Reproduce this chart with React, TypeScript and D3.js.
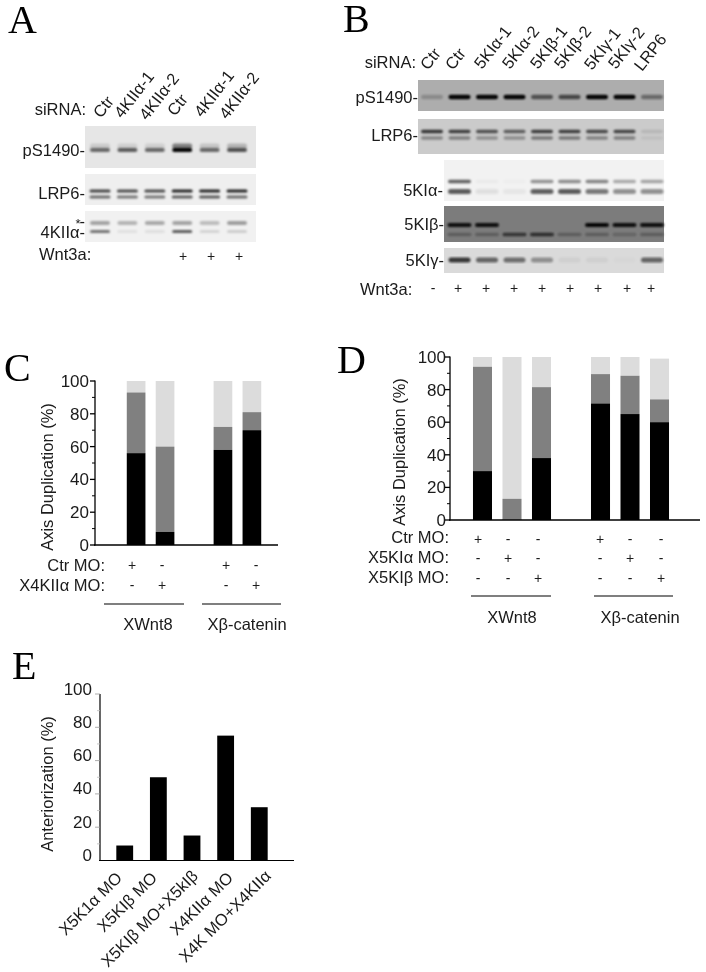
import React from "react";
import * as d3 from "d3";

// ---------- data ----------
const laneA = ["Ctr", "4KIIα-1", "4KIIα-2", "Ctr ", "4KIIα-1 ", "4KIIα-2 "];
const laneB = ["Ctr", "Ctr ", "5KIα-1", "5KIα-2", "5KIβ-1", "5KIβ-2", "5KIγ-1", "5KIγ-2", "LRP6"];
const wntA = ["", "", "", "+", "+", "+"];
const wntB = ["-", "+", "+", "+", "+", "+", "+", "+", "+"];

const aPS1 = [0.55, 0.6, 0.55, 1, 0.55, 0.65];
const aPS2 = [0.12, 0.1, 0.1, 0.45, 0.15, 0.22];
const aLrpTop = [0.72, 0.68, 0.68, 0.85, 0.85, 0.85];
const aLrpBottom = [0.55, 0.5, 0.5, 0.6, 0.62, 0.55];
const aKinTop = [0.32, 0.25, 0.3, 0.32, 0.22, 0.35];
const aKinBottom = [0.52, 0.07, 0.08, 0.62, 0.12, 0.15];

const bPS = [0.2, 1, 1, 1, 0.55, 0.6, 1, 1, 0.4];
const bLrpTop = [0.75, 0.7, 0.62, 0.55, 0.7, 0.7, 0.65, 0.68, 0.1];
const bLrpBottom = [0.35, 0.38, 0.3, 0.3, 0.42, 0.42, 0.36, 0.38, 0.06];
const bAlphaTop = [0, 0.6, 0.03, 0.02, 0.4, 0.42, 0.45, 0.3, 0.32];
const bAlphaBottom = [0, 0.62, 0.08, 0.05, 0.6, 0.62, 0.5, 0.4, 0.4];
const bBetaTop = [0.9, 0.9, 0.9, 0, 0, 0.85 * 0, 0.95, 0.9, 0.9];
const bBetaBottom = [0.25, 0.25, 0.25, 0.6, 0.65, 0.25, 0.25, 0.2, 0.25];
const bGamma = [0.4, 0.75, 0.55, 0.5, 0.35, 0.05, 0.05, 0.02, 0.55];

const cGroups = ["a", "b", "gap", "c", "d"];
const cBlack = [56, 8, 58, 70];
const cGray = [93, 60, 72, 81];
const cLight = [100, 100, 100, 100];
const cCtr = ["+", "-", "+", "-"];
const cMo = ["-", "+", "-", "+"];

const dGroups = ["a", "b", "c", "gap", "d", "e", "f"];
const dBlack = [30, 0, 38, 71.5, 65, 60];
const dGray = [94, 13, 81.5, 89.5, 88.5, 74];
const dLight = [100, 100, 100, 100, 100, 99];
const dCtr = ["+", "-", "-", "+", "-", "-"];
const dAlpha = ["-", "+", "-", "-", "+", "-"];
const dBeta = ["-", "-", "+", "-", "-", "+"];

const eCategories = ["X5K1α MO", "X5KIβ MO", "X5KIβ MO+X5kIβ", "X4KIIα MO", "X4K MO+X4KIIα"];
const eValues = [9, 50, 15, 75, 32];

const yTicks = [0, 20, 40, 60, 80, 100];
const yMinor = [10, 30, 50, 70, 90];

// ---------- style ----------
const SANS = "'Liberation Sans', Arial, sans-serif";
const SERIF = "'Liberation Serif', 'Times New Roman', serif";
const INK = "#1a1a1a";
const FS = 16.5;

const T = (p: any) => (
  <text fontFamily={SANS} fontSize={FS} fill={INK} {...p} />
);

type Band = { y: number; values: number[]; h?: number; tilt?: number };

function Blot({ x0, x1, y0, y1, bg, lanes, bands, bw, ink = "#000" }: any) {
  return (
    <g>
      <rect x={x0} y={y0} width={x1 - x0} height={y1 - y0} fill={bg} />
      <g clipPath={undefined} filter="url(#bandBlur)">
        {bands.map((b: Band, i: number) =>
          b.values.map((v, j) => {
            const key = lanes.domain()[j];
            const cx = lanes(key);
            if (v <= 0 || cx < x0) return null;
            const h = b.h ?? 4;
            return (
              <rect
                key={i + "-" + j}
                x={cx - bw / 2}
                y={b.y - h / 2}
                width={bw}
                height={h}
                rx={h / 2}
                fill={ink}
                fillOpacity={v}
              />
            );
          })
        )}
      </g>
    </g>
  );
}

function Stacked({ groups, range, padding, y, black, gray, light, axisX, axisEnd }: any) {
  const slots = groups.filter((g: string) => g !== "gap");
  const x = d3.scaleBand<string>().domain(groups).range(range).padding(padding);
  const y0 = y(0);
  return (
    <g>
      {slots.map((g: string, i: number) => (
        <g key={g}>
          <rect x={x(g)} width={x.bandwidth()} y={y(light[i])} height={y(gray[i]) - y(light[i])} fill="#dcdcdc" />
          <rect x={x(g)} width={x.bandwidth()} y={y(gray[i])} height={y(black[i]) - y(gray[i])} fill="#808080" />
          <rect x={x(g)} width={x.bandwidth()} y={y(black[i])} height={y0 - y(black[i])} fill="#000" />
        </g>
      ))}
      <Axis axisX={axisX} axisEnd={axisEnd} y={y} />
    </g>
  );
}

function Axis({ axisX, axisEnd, y }: any) {
  return (
    <g stroke="#000" strokeWidth={1.3}>
      <line x1={axisX} x2={axisX} y1={y(100) - 0.5} y2={y(0) + 0.5} />
      <line x1={axisX - 1} x2={axisEnd} y1={y(0)} y2={y(0)} />
      {yTicks.map((t) => (
        <line key={t} x1={axisX - 5} x2={axisX} y1={y(t)} y2={y(t)} />
      ))}
      {yMinor.map((t) => (
        <line key={t} x1={axisX - 3} x2={axisX} y1={y(t)} y2={y(t)} strokeWidth={1} />
      ))}
    </g>
  );
}

function TickLabels({ right, y, dy = 6 }: any) {
  return (
    <g>
      {yTicks.map((t) => (
        <T key={t} x={right} y={y(t) + dy} textAnchor="end" fontSize={17}>
          {t}
        </T>
      ))}
    </g>
  );
}

function Rotated({ x, y, angle, children, anchor = "start", size = FS }: any) {
  return (
    <T transform={`translate(${x},${y}) rotate(${angle})`} textAnchor={anchor} fontSize={size}>
      {children}
    </T>
  );
}

function SignRow({ xs, signs, y }: any) {
  return (
    <g>
      {signs.map((s: string, i: number) =>
        s ? (
          <T key={i} x={xs[i]} y={y} textAnchor="middle" fontSize={14}>
            {s}
          </T>
        ) : null
      )}
    </g>
  );
}

export default function App() {
  // panel A
  const lanesA = d3.scalePoint<string>().domain(laneA).range([100, 237]);
  const aLabelX = [101, 122, 147, 175, 202, 227];
  const aLabelY = [119, 119, 121, 117, 118, 120];
  // panel B
  const lanesB = d3.scalePoint<string>().domain(laneB).range([432, 652]);
  const bLabelX = [428, 453, 482, 510, 538, 562, 592, 616, 642];
  const bLabelY = [71, 71, 70, 70, 70, 70, 71, 70, 72];
  const bSignX = [433, 458, 486, 514, 542, 570, 598, 627, 651];
  // panel C
  const yC = d3.scaleLinear().domain([0, 100]).range([545, 381]);
  const cSignX = [132, 162, 226, 256];
  const cSignX2 = [132, 162, 226, 256];
  // panel D
  const yD = d3.scaleLinear().domain([0, 100]).range([520, 357]);
  const dSignX = [478, 508, 538, 600, 630, 661];
  // panel E
  const yE = d3.scaleLinear().domain([0, 100]).range([860.5, 694]);
  const xE = d3.scaleBand<string>().domain(eCategories).range([99.5, 284.5]).padding(0.5);
  const eEndX = [123, 158, 199, 234, 272];
  const eEndY = [879, 879, 877, 879, 877];

  return (
    <svg width={706} height={972} style={{ position: "absolute", left: 0, top: 0, background: "#fff" }}>
      <defs>
        <filter id="bandBlur" x="-5%" y="-30%" width="110%" height="160%">
          <feGaussianBlur stdDeviation="1.3 0.9" />
        </filter>
        <filter id="soft" x="-2%" y="-2%" width="104%" height="104%">
          <feGaussianBlur stdDeviation="0.3" />
        </filter>
      </defs>
      <g filter="url(#soft)">
        {/* panel letters */}
        {[
          ["A", 8, 33],
          ["B", 343, 32],
          ["C", 4, 381],
          ["D", 337, 373],
          ["E", 12, 679],
        ].map(([l, x, y]) => (
          <text key={l as string} x={x as number} y={y as number} fontFamily={SERIF} fontSize={40} fill="#000">
            {l}
          </text>
        ))}

        {/* ---------- A ---------- */}
        <T x={86} y={115} textAnchor="end">siRNA:</T>
        {laneA.map((l, i) => (
          <Rotated key={l} x={aLabelX[i]} y={aLabelY[i]} angle={-52}>{l.trim()}</Rotated>
        ))}
        <Blot x0={85} x1={256} y0={126} y1={168} bg="#e6e6e6" lanes={lanesA} bw={20}
          bands={[{ y: 150, values: aPS1 }, { y: 146, values: aPS2, h: 5 }]} />
        <Blot x0={85} x1={256} y0={174} y1={205} bg="#efefef" lanes={lanesA} bw={21}
          bands={[{ y: 191, values: aLrpTop, h: 3 }, { y: 197, values: aLrpBottom, h: 3 }]} />
        <Blot x0={85} x1={256} y0={211} y1={242} bg="#f1f1f1" lanes={lanesA} bw={20}
          bands={[{ y: 223, values: aKinTop, h: 4 }, { y: 231.5, values: aKinBottom, h: 3 }]} />
        <T x={85} y={156} textAnchor="end">pS1490-</T>
        <T x={85} y={199} textAnchor="end">LRP6-</T>
        <T x={78} y={228} textAnchor="middle" fontSize={13}>*</T>
        <T x={85} y={227} textAnchor="end">-</T>
        <T x={85} y={238} textAnchor="end">4KIIα-</T>
        <T x={39} y={260}>Wnt3a:</T>
        <SignRow xs={[100, 128, 153, 183, 211, 239]} signs={wntA} y={261} />

        {/* ---------- B ---------- */}
        <T x={416} y={68} textAnchor="end">siRNA:</T>
        {laneB.map((l, i) => (
          <Rotated key={l} x={bLabelX[i]} y={bLabelY[i]} angle={-52}>{l.trim()}</Rotated>
        ))}
        <Blot x0={418} x1={664} y0={80} y1={111} bg="#adadad" lanes={lanesB} bw={22}
          bands={[{ y: 97, values: bPS, h: 4.5 }]} />
        <Blot x0={418} x1={664} y0={119} y1={154} bg="#cbcbcb" lanes={lanesB} bw={22}
          bands={[{ y: 131.5, values: bLrpTop, h: 3.5 }, { y: 138, values: bLrpBottom, h: 3.5 }]} />
        <Blot x0={444} x1={664} y0={160} y1={201} bg="#f2f2f2" lanes={lanesB} bw={23}
          bands={[{ y: 181.5, values: bAlphaTop, h: 3.5 }, { y: 191.5, values: bAlphaBottom, h: 5 }]} />
        <Blot x0={444} x1={664} y0={206} y1={242} bg="#7c7c7c" lanes={lanesB} bw={24}
          bands={[{ y: 225, values: bBetaTop, h: 4 }, { y: 234.5, values: bBetaBottom, h: 3.5 }]} />
        <Blot x0={444} x1={664} y0={248} y1={273} bg="#dadada" lanes={lanesB} bw={22}
          bands={[{ y: 260, values: bGamma, h: 5 }]} />
        <T x={418} y={103} textAnchor="end">pS1490-</T>
        <T x={418} y={141} textAnchor="end">LRP6-</T>
        <T x={443} y={196} textAnchor="end">5KIα-</T>
        <T x={444} y={230} textAnchor="end">5KIβ-</T>
        <T x={444} y={266} textAnchor="end">5KIγ-</T>
        <T x={360} y={295}>Wnt3a:</T>
        <SignRow xs={bSignX} signs={wntB} y={293} />

        {/* ---------- C ---------- */}
        <Stacked groups={cGroups} range={[116.5, 271.5]} padding={0.355} y={yC}
          black={cBlack} gray={cGray} light={cLight} axisX={95} axisEnd={278} />
        <TickLabels right={89} y={yC} />
        <T transform="translate(53,477) rotate(-90)" textAnchor="middle">Axis Duplication (%)</T>
        <T x={105} y={571} textAnchor="end">Ctr MO:</T>
        <T x={105} y={591} textAnchor="end">X4KIIα MO:</T>
        <SignRow xs={cSignX} signs={cCtr} y={570} />
        <SignRow xs={cSignX2} signs={cMo} y={590} />
        <line x1={104} x2={184} y1={604} y2={604} stroke="#000" strokeWidth={1.2} />
        <line x1={202} x2={281} y1={604} y2={604} stroke="#000" strokeWidth={1.2} />
        <T x={148} y={630} textAnchor="middle">XWnt8</T>
        <T x={247} y={630} textAnchor="middle">Xβ-catenin</T>

        {/* ---------- D ---------- */}
        <Stacked groups={dGroups} range={[462.5, 679.5]} padding={0.355} y={yD}
          black={dBlack} gray={dGray} light={dLight} axisX={450} axisEnd={700} />
        <TickLabels right={446} y={yD} />
        <T transform="translate(405,452) rotate(-90)" textAnchor="middle">Axis Duplication (%)</T>
        <T x={449} y={543} textAnchor="end">Ctr MO:</T>
        <T x={449} y={563} textAnchor="end">X5KIα MO:</T>
        <T x={449} y={583} textAnchor="end">X5KIβ MO:</T>
        <SignRow xs={dSignX} signs={dCtr} y={544} />
        <SignRow xs={dSignX} signs={dAlpha} y={563} />
        <SignRow xs={dSignX} signs={dBeta} y={583} />
        <line x1={471} x2={551} y1={596} y2={596} stroke="#000" strokeWidth={1.2} />
        <line x1={594} x2={673} y1={596} y2={596} stroke="#000" strokeWidth={1.2} />
        <T x={512} y={623} textAnchor="middle">XWnt8</T>
        <T x={640} y={623} textAnchor="middle">Xβ-catenin</T>

        {/* ---------- E ---------- */}
        {eCategories.map((c, i) => (
          <rect key={c} x={xE(c)} width={xE.bandwidth()} y={yE(eValues[i])} height={yE(0) - yE(eValues[i])} fill="#000" />
        ))}
        <g stroke="#000">
          <line x1={100} x2={100} y1={yE(100)} y2={yE(0)} strokeWidth={1.2} />
          <line x1={99} x2={294} y1={yE(0)} y2={yE(0)} strokeWidth={1.2} />
          {yTicks.slice(1).map((t) => (
            <line key={t} x1={95} x2={100} y1={yE(t)} y2={yE(t)} strokeWidth={0.8} stroke="#999" />
          ))}
          {yMinor.map((t) => (
            <line key={t} x1={97} x2={100} y1={yE(t)} y2={yE(t)} strokeWidth={0.8} stroke="#bbb" />
          ))}
        </g>
        {yTicks.map((t) => (
          <T key={t} x={92} y={yE(t) + 0.5} textAnchor="end" fontSize={17}>{t}</T>
        ))}
        <T transform="translate(53,784) rotate(-90)" textAnchor="middle">Anteriorization (%)</T>
        {eCategories.map((c, i) => (
          <Rotated key={c} x={eEndX[i]} y={eEndY[i]} angle={-45} anchor="end">{c}</Rotated>
        ))}
      </g>
    </svg>
  );
}
